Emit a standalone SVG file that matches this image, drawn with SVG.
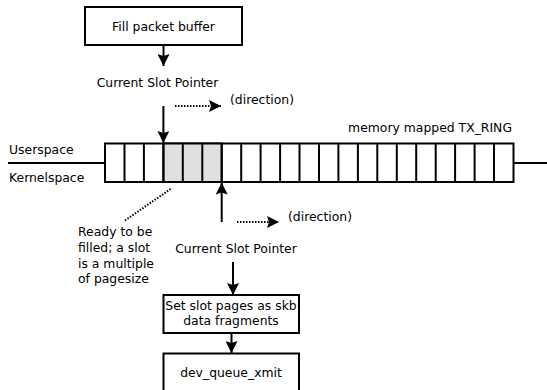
<svg xmlns="http://www.w3.org/2000/svg" width="547" height="390" viewBox="0 0 547 390">
  <style>
    text { font-family: "DejaVu Sans", "Liberation Sans", sans-serif; font-size: 12.4px; fill: #000; }
    .box { fill: #fff; stroke: #000; stroke-width: 2; }
    .cell { fill: #fff; stroke: #000; stroke-width: 2; }
    .busy { fill: #e0e0e0; stroke: #000; stroke-width: 2; }
    .line { fill: none; stroke: #000; stroke-width: 2; }
    .dot { fill: none; stroke: #000; stroke-width: 2; stroke-dasharray: 1.5 1.5; }
    .mid { text-anchor: middle; }
  </style>
  <defs>
    <marker id="head" viewBox="0 0 12 12" refX="12" refY="6" markerWidth="12" markerHeight="12" markerUnits="userSpaceOnUse" orient="auto">
      <path d="M0,0 L12,6 L0,12 L2,6 z" fill="#000"/>
    </marker>
  </defs>

  <!-- user/kernel boundary -->
  <g id="boundary">
    <line class="line" x1="8" y1="163" x2="105" y2="163"/>
    <line class="line" x1="513.5" y1="163" x2="547" y2="163"/>
    <text x="9" y="154">Userspace</text>
    <text x="9" y="182">Kernelspace</text>
  </g>

  <!-- TX ring: 21 slots -->
  <g id="tx-ring">
    <rect class="cell" x="105" y="143.5" width="408.5" height="38.5"/>
    <rect class="busy" x="163.4" y="143.5" width="58.3" height="38.5"/>
    <path class="line" d="M124.5,143.5V182M143.9,143.5V182M163.4,143.5V182M182.8,143.5V182M202.3,143.5V182M221.7,143.5V182M241.2,143.5V182M260.6,143.5V182M280.1,143.5V182M299.5,143.5V182M319,143.5V182M338.4,143.5V182M357.9,143.5V182M377.3,143.5V182M396.8,143.5V182M416.2,143.5V182M435.7,143.5V182M455.1,143.5V182M474.6,143.5V182M494,143.5V182"/>
    <text x="512" y="132" text-anchor="end">memory mapped TX_RING</text>
  </g>

  <g id="fill-buffer">
    <rect class="box" x="85" y="7" width="157" height="38"/>
    <text class="mid" x="163.5" y="31">Fill packet buffer</text>
  </g>

  <g id="user-pointer">
    <text class="mid" x="157.5" y="87">Current Slot Pointer</text>
    <text x="230" y="104">(direction)</text>
  </g>

  <g id="kernel-pointer">
    <text class="mid" x="236" y="253">Current Slot Pointer</text>
    <text x="288" y="221">(direction)</text>
  </g>

  <g id="slot-note">
    <text x="78" y="236">Ready to be</text>
    <text x="78" y="252">filled; a slot</text>
    <text x="78" y="267.5">is a multiple</text>
    <text x="78" y="283">of pagesize</text>
  </g>

  <g id="set-pages">
    <rect class="box" x="163.5" y="295" width="135.5" height="38"/>
    <text class="mid" x="231" y="309.5">Set slot pages as skb</text>
    <text class="mid" x="231" y="325">data fragments</text>
  </g>

  <g id="dev-queue">
    <rect class="box" x="163.5" y="353.5" width="135.5" height="40"/>
    <text class="mid" x="231" y="377">dev_queue_xmit</text>
  </g>

  <g id="connectors">
    <line class="line" x1="163.5" y1="45" x2="163.5" y2="66" marker-end="url(#head)"/>
    <line class="line" x1="163.4" y1="106" x2="163.4" y2="143" marker-end="url(#head)"/>
    <line class="dot" x1="175" y1="106" x2="221" y2="106" marker-end="url(#head)"/>
    <line class="line" x1="221.7" y1="222" x2="221.7" y2="182.5" marker-end="url(#head)"/>
    <line class="dot" x1="237" y1="222" x2="279" y2="222" marker-end="url(#head)"/>
    <line class="dot" x1="125" y1="220.5" x2="172" y2="188"/>
    <line class="line" x1="233" y1="262" x2="233" y2="295" marker-end="url(#head)"/>
    <line class="line" x1="231.5" y1="333" x2="231.5" y2="353" marker-end="url(#head)"/>
  </g>
</svg>
